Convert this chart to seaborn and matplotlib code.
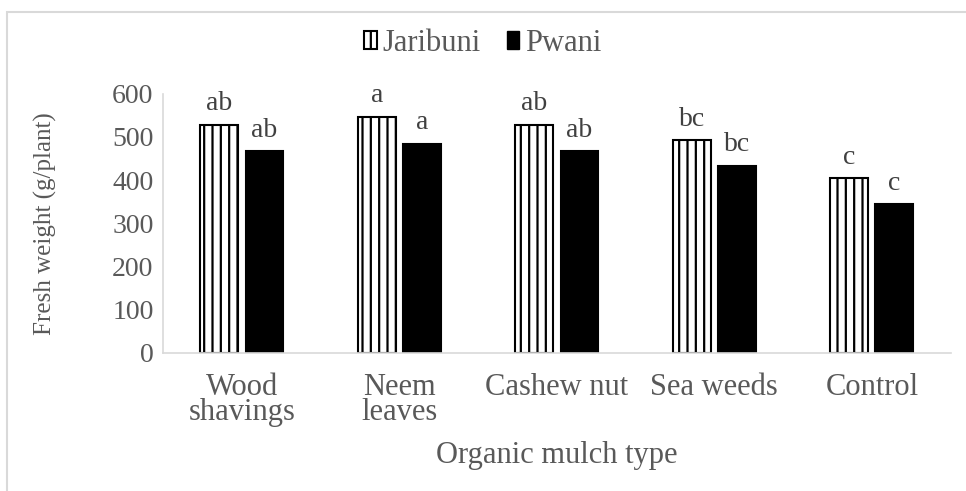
import pandas as pd
import matplotlib
matplotlib.use("Agg")
import matplotlib.pyplot as plt
import seaborn as sns
from matplotlib.patches import Patch, Rectangle

# values
mulch_types = ["Wood\nshavings", "Neem\nleaves", "Cashew nut", "Sea weeds", "Control"]
jaribuni = [528, 547, 528, 492, 405]
pwani = [467, 484, 467, 433, 344]
jaribuni_letters = ["ab", "a", "ab", "bc", "c"]
pwani_letters = ["ab", "a", "ab", "bc", "c"]
sites = ["Jaribuni", "Pwani"]

df = pd.DataFrame({
    "Mulch": mulch_types * 2,
    "Weight": jaribuni + pwani,
    "Site": [sites[0]] * len(mulch_types) + [sites[1]] * len(mulch_types),
})

sns.set_theme(style="white")
plt.rcParams["font.family"] = ["Liberation Serif", "DejaVu Serif"]
plt.rcParams["hatch.linewidth"] = 1.6
txt = "#595959"

fig = plt.figure(figsize=(9.66, 4.91), dpi=100)
ax = fig.add_axes([0.169, 0.282, 0.815, 0.527])

sns.barplot(data=df, x="Mulch", y="Weight", hue="Site", palette=["white", "black"],
            edgecolor="black", linewidth=1.5, width=0.573, gap=0.16, ax=ax, legend=False)

# vertical stripes on the Jaribuni bars
for bar in ax.containers[0]:
    bar.set_hatch("||")

for cont, letters in zip(ax.containers, [jaribuni_letters, pwani_letters]):
    for bar, lab in zip(cont, letters):
        ax.annotate(lab, (bar.get_x() + bar.get_width() / 2, bar.get_height()),
                    xytext=(0, 6), textcoords="offset points", ha="center", va="bottom",
                    fontsize=20, color="#404040")

ax.set_ylim(0, 600)
ax.set_yticks(range(0, 601, 100))
ax.tick_params(axis="y", labelsize=20, labelcolor=txt, length=0, pad=7)
ax.tick_params(axis="x", labelsize=22, labelcolor=txt, length=0, pad=15)
ax.set_ylabel("Fresh weight (g/plant)", fontsize=18, color=txt)
ax.yaxis.set_label_coords(-0.135, 0.5)
ax.set_xlabel("Organic mulch type", fontsize=22, color=txt)
ax.xaxis.set_label_coords(0.5, -0.34)
for lab in ax.get_xticklabels():
    lab.set_linespacing(0.8)

sns.despine(ax=ax, top=True, right=True)
ax.spines["left"].set_color("#d9d9d9")
ax.spines["bottom"].set_color("#d9d9d9")
ax.spines["left"].set_linewidth(1.2)
ax.spines["bottom"].set_linewidth(1.2)

handles = [Patch(facecolor="white", edgecolor="black", hatch="||", linewidth=1.5),
           Patch(facecolor="black", edgecolor="black")]
fig.legend(handles, sites, loc="center", bbox_to_anchor=(0.5, 0.912), ncol=2, frameon=False,
           fontsize=22, labelcolor=txt, handlelength=0.4, handleheight=0.5,
           handletextpad=0.2, columnspacing=0.85)

# light frame around the chart area
fig.patches.append(Rectangle((7 / 966, -0.1), 1.2, 1.0756, transform=fig.transFigure,
                             fill=False, edgecolor="#d9d9d9", linewidth=1.5))

fig.savefig("out.png", dpi=100)
